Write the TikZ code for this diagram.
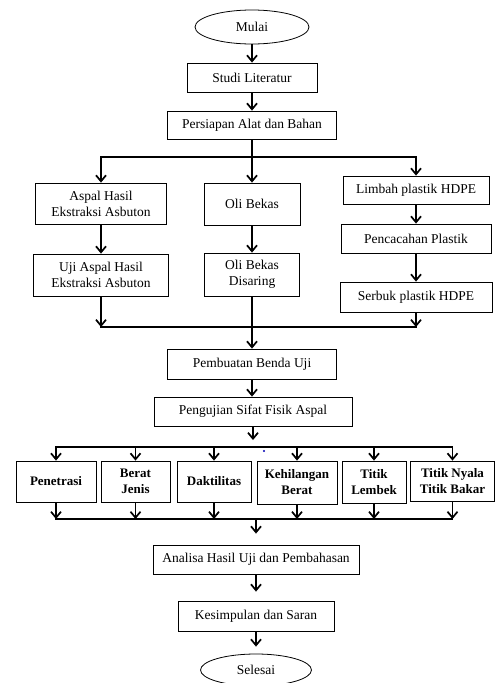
\documentclass[tikz,border=0pt]{standalone}
\usepackage{fontspec}
\setmainfont{Liberation Serif}
\usetikzlibrary{arrows.meta,shapes.geometric}

\begin{document}
\begin{tikzpicture}[x=1pt,y=-1pt,
        box/.style={draw, line width=0.8pt, align=center, inner sep=0pt,
                    font=\fontsize{13.5}{16}\selectfont},
        oval/.style={draw, ellipse, line width=0.8pt, inner sep=0pt,
                    font=\fontsize{13.5}{16}\selectfont},
        testbox/.style={box, font=\fontsize{13}{16}\selectfont\bfseries},
        arr/.style={line width=1.7pt, -{Straight Barb[length=6pt,width=10pt]}},
        flow/.style={line width=1.7pt, line cap=rect}]
        \useasboundingbox (0,0) rectangle (495,683);

        \node[oval, minimum width=114pt, minimum height=34pt] (mulai) at (252,27) {Mulai};
        \node[box, minimum width=130pt, minimum height=29pt] (studi) at (252,77.5) {Studi Literatur};
        \node[box, minimum width=169pt, minimum height=28pt] (persiapan) at (252,125) {Persiapan Alat dan Bahan};

        %%% three branches
        \node[box, minimum width=131pt, minimum height=41pt] (aspal) at (101,203.5) {Aspal Hasil\\Ekstraksi Asbuton};
        \node[box, minimum width=135pt, minimum height=42pt] (ujiaspal) at (101,275) {Uji Aspal Hasil\\Ekstraksi Asbuton};
        \node[box, minimum width=96pt, minimum height=42pt] (oli) at (252,204) {Oli Bekas};
        \node[box, minimum width=95pt, minimum height=43pt] (disaring) at (252,274.5) {Oli Bekas\\Disaring};
        \node[box, minimum width=146pt, minimum height=28pt] (limbah) at (416,190) {Limbah plastik HDPE};
        \node[box, minimum width=150pt, minimum height=29pt] (cacah) at (416,238.5) {Pencacahan Plastik};
        \node[box, minimum width=152pt, minimum height=30pt] (serbuk) at (416,297) {Serbuk plastik HDPE};

        \node[box, minimum width=169pt, minimum height=30pt] (pembuatan) at (252,364) {Pembuatan Benda Uji};
        \node[box, minimum width=198pt, minimum height=29pt] (pengujian) at (253,411.5) {Pengujian Sifat Fisik Aspal};

        %%% tests
        \node[testbox, minimum width=80pt, minimum height=41pt] (penetrasi) at (56,481.5) {Penetrasi};
        \node[testbox, minimum width=69pt, minimum height=41pt] (berat) at (135.5,481.5) {Berat\\Jenis};
        \node[testbox, minimum width=74pt, minimum height=41pt] (daktilitas) at (214,481.5) {Daktilitas};
        \node[testbox, minimum width=80pt, minimum height=43pt] (kehilangan) at (297,482.5) {Kehilangan\\Berat};
        \node[testbox, minimum width=64pt, minimum height=42pt] (lembek) at (374,482) {Titik\\Lembek};
        \node[testbox, minimum width=84pt, minimum height=40pt] (nyala) at (452.5,481) {Titik Nyala\\Titik Bakar};

        \node[box, minimum width=206pt, minimum height=29pt] (analisa) at (256,559.5) {Analisa Hasil Uji dan Pembahasan};
        \node[box, minimum width=156pt, minimum height=30pt] (kesimpulan) at (256,616) {Kesimpulan dan Saran};
        \node[oval, minimum width=111pt, minimum height=32pt] (selesai) at (256,670) {Selesai};

        \coordinate (cabang) at (252,157);
        \coordinate (gabung) at (252,327);
        \coordinate (uji) at (253,447);
        \coordinate (hasil) at (256,519);

        \draw[arr] (mulai) -- (studi);
        \draw[arr] (studi) -- (persiapan);
        \draw[arr] (persiapan) -- (oli);
        \draw[arr] (cabang) -| (aspal);
        \draw[arr] (cabang) -| (limbah);

        \draw[arr] (aspal) -- (ujiaspal);
        \draw[arr] (oli) -- (disaring);
        \draw[arr] (limbah) -- (cacah);
        \draw[arr] (cacah) -- (serbuk);

        \draw[arr] (ujiaspal) -- (ujiaspal |- gabung);
        \draw[arr] (serbuk) -- (serbuk |- gabung);
        \draw[flow] (ujiaspal |- gabung) -- (serbuk |- gabung);
        \draw[arr] (disaring) -- (pembuatan);
        \draw[arr] (pembuatan) -- (pembuatan |- pengujian.north);

        \draw[arr, shorten >=7pt] (pengujian) -- (pengujian |- uji);
        \draw[flow] (penetrasi |- uji) -- (nyala |- uji);
        \foreach \n in {penetrasi,berat,daktilitas,kehilangan,lembek,nyala}
            \draw[arr] (\n |- uji) -- (\n);
        \fill[blue!70!black] (264,451) circle (1.2pt);

        \foreach \n in {penetrasi,berat,daktilitas,kehilangan,lembek,nyala}
            \draw[arr] (\n) -- (\n |- hasil);
        \draw[flow] (penetrasi |- hasil) -- (nyala |- hasil);

        \draw[arr, shorten >=11pt] (hasil) -- (analisa);
        \draw[arr, shorten >=9pt] (analisa) -- (kesimpulan);
        \draw[arr, shorten >=7pt] (kesimpulan) -- (selesai);
    \end{tikzpicture}
\end{document}
